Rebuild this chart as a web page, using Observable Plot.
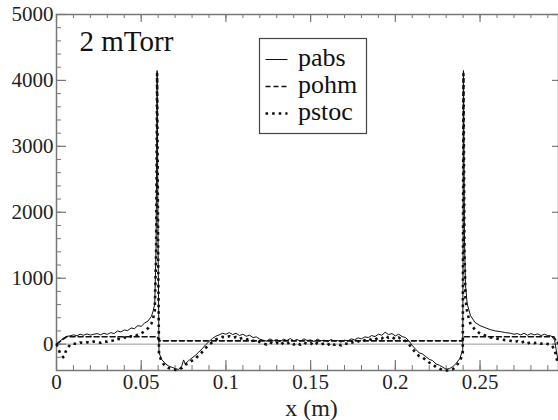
<!DOCTYPE html>
<html>
<head>
<meta charset="utf-8">
<script src="https://cdn.jsdelivr.net/npm/d3@7"></script>
<script src="https://cdn.jsdelivr.net/npm/@observablehq/plot@0.6"></script>
<style>
  html, body { margin: 0; padding: 0; background: #fff; }
  #wrap { position: relative; width: 558px; height: 420px; overflow: hidden; }
  #wrap svg, #wrap svg text { font-family: "Liberation Serif", "Times New Roman", Times, "DejaVu Serif", "Noto Serif", serif !important; }
  #legend { position: absolute; left: 0; top: 0; }
</style>
</head>
<body>
<div id="wrap"></div>
<script>
// ---- data ----
const xTicks = [0, 0.05, 0.1, 0.15, 0.2, 0.25];
const xTickLabels = ["0", "0.05", "0.1", "0.15", "0.2", "0.25"];
const yTicks = [0, 1000, 2000, 3000, 4000, 5000];
const yTickLabels = ["0", "1000", "2000", "3000", "4000", "5000"];
const seriesNames = ["pabs", "pohm", "pstoc"];
const annotation = "2 mTorr";
const xTitle = "x (m)";

// pabs: [x (m), value]
const pabs = [
  [0,0],[0.002,45],[0.004,90],[0.006,118],[0.008,125],[0.010,140],[0.012,128],[0.014,150],[0.016,135],[0.018,155],
  [0.020,138],[0.022,150],[0.024,160],[0.026,142],[0.028,165],[0.030,148],[0.032,175],[0.034,160],[0.036,200],[0.038,185],
  [0.040,215],[0.042,205],[0.044,245],[0.046,235],[0.048,280],[0.050,270],[0.052,320],[0.054,350],[0.056,420],[0.057,500],
  [0.058,610],[0.0588,1500],[0.0594,4150],[0.0600,1400],[0.0605,-130],
  [0.062,-230],[0.064,-290],[0.066,-330],[0.068,-350],[0.070,-370],[0.072,-385],[0.074,-330],[0.075,-240],[0.076,-300],
  [0.078,-250],[0.080,-210],[0.082,-170],[0.084,-120],[0.086,-70],[0.088,-10],[0.090,40],[0.092,85],[0.094,120],[0.096,140],
  [0.098,165],[0.100,150],[0.102,175],[0.104,145],[0.106,165],[0.108,130],[0.110,150],[0.112,120],[0.114,135],[0.116,100],
  [0.118,110],[0.120,75],[0.122,60],[0.124,45],[0.126,80],[0.128,50],[0.130,70],[0.132,40],[0.134,75],[0.136,55],
  [0.138,85],[0.140,50],[0.142,70],[0.144,45],[0.146,80],[0.148,55],[0.150,65],[0.152,40],[0.154,75],[0.156,50],
  [0.158,60],[0.160,35],[0.162,70],[0.164,45],[0.166,55],[0.168,30],[0.170,60],[0.172,50],[0.174,80],[0.176,65],
  [0.178,95],[0.180,80],[0.182,110],[0.184,100],[0.186,130],[0.188,115],[0.190,150],[0.192,135],[0.194,180],[0.196,145],
  [0.198,160],[0.200,125],[0.202,150],[0.204,115],[0.206,100],[0.208,50],[0.210,-20],[0.212,-80],[0.214,-130],[0.216,-150],
  [0.218,-190],[0.220,-230],[0.222,-250],[0.224,-300],[0.226,-320],[0.228,-350],[0.230,-380],[0.232,-370],[0.234,-340],
  [0.236,-290],[0.238,-220],[0.239,-150],[0.2398,-80],[0.2402,4150],[0.2408,1600],[0.2414,900],[0.2424,610],[0.2444,430],
  [0.247,330],[0.250,280],[0.253,250],[0.256,220],[0.259,200],[0.262,190],[0.265,175],[0.268,165],[0.270,150],[0.272,160],
  [0.274,140],[0.276,165],[0.278,135],[0.280,160],[0.282,140],[0.284,155],[0.286,130],[0.288,150],[0.290,130],[0.292,125],
  [0.294,60],[0.295,-100],[0.296,-250]
];

// pohm: [x (m), value]
const pohm = [
  [0,0],[0.006,112],[0.0595,112],[0.0605,50],[0.2398,50],[0.2406,112],[0.2935,112],[0.2962,0]
];

// pstoc: [x (m), value]
const pstoc = [
  [0,0],[0.002,-130],[0.004,-200],[0.006,-80],[0.008,-10],[0.010,10],[0.012,0],[0.014,25],[0.016,15],[0.018,30],
  [0.020,20],[0.022,40],[0.024,30],[0.026,20],[0.028,45],[0.030,35],[0.032,55],[0.034,50],[0.036,80],[0.038,70],
  [0.040,100],[0.042,90],[0.044,120],[0.046,110],[0.048,145],[0.050,160],[0.052,200],[0.054,240],[0.056,310],[0.057,390],
  [0.058,500],[0.0588,1400],[0.0594,4100],[0.0600,1300],[0.0605,-150],
  [0.062,-260],[0.064,-330],[0.066,-360],[0.068,-380],[0.070,-390],[0.072,-395],[0.074,-360],[0.075,-330],[0.076,-310],
  [0.078,-290],[0.080,-250],[0.082,-220],[0.084,-170],[0.086,-120],[0.088,-60],[0.090,-10],[0.092,30],[0.094,70],[0.096,90],
  [0.098,110],[0.100,100],[0.102,120],[0.104,95],[0.106,110],[0.108,80],[0.110,95],[0.112,70],[0.114,80],[0.116,50],
  [0.118,60],[0.120,30],[0.122,10],[0.124,-5],[0.126,30],[0.128,0],[0.130,20],[0.132,-15],[0.134,25],[0.136,5],
  [0.138,30],[0.140,-5],[0.142,20],[0.144,-10],[0.146,25],[0.148,0],[0.150,15],[0.152,-20],[0.154,20],[0.156,-5],
  [0.158,10],[0.160,-15],[0.162,20],[0.164,-10],[0.166,5],[0.168,-20],[0.170,10],[0.172,0],[0.174,30],[0.176,15],
  [0.178,45],[0.180,30],[0.182,60],[0.184,50],[0.186,80],[0.188,65],[0.190,100],[0.192,85],[0.194,125],[0.196,95],
  [0.198,110],[0.200,75],[0.202,100],[0.204,65],[0.206,50],[0.208,0],[0.210,-70],[0.212,-130],[0.214,-180],[0.216,-200],
  [0.218,-240],[0.220,-280],[0.222,-300],[0.224,-350],[0.226,-370],[0.228,-395],[0.230,-400],[0.232,-400],[0.234,-380],
  [0.236,-330],[0.238,-260],[0.239,-200],[0.2398,-130],[0.2402,4100],[0.2408,1400],[0.2414,700],[0.2424,480],[0.2444,300],
  [0.247,220],[0.250,160],[0.253,130],[0.256,100],[0.259,90],[0.262,70],[0.265,60],[0.268,50],[0.270,30],[0.272,45],
  [0.274,20],[0.276,40],[0.278,10],[0.280,30],[0.282,15],[0.284,25],[0.286,5],[0.288,20],[0.290,0],[0.292,-10],
  [0.294,-80],[0.295,-200],[0.296,-300]
];

// ---- chart ----
const W = 558, H = 420;
const mL = 56, mR = 0, mT = 14, mB = 50;
const plotW = W - mL - mR, plotH = H - mT - mB;
const xMax = 0.2963;
const xMinor = d3.range(0, 0.3, 0.01).filter(d => d <= xMax);
const yMinor = d3.range(-400, 5001, 200);
const axisColor = "#777";
const font = "\"Liberation Serif\", \"Times New Roman\", Times, \"DejaVu Serif\", serif";

const chart = Plot.plot({
  width: W, height: H,
  marginLeft: mL, marginRight: mR, marginTop: mT, marginBottom: mB,
  style: { fontFamily: font, background: "#fff", overflow: "visible" },
  x: { domain: [0, xMax], axis: null },
  y: { domain: [-400, 5000], axis: null },
  marks: [
    Plot.ruleY([0], { stroke: "#9a9a9a", strokeWidth: 1 }),
    // minor & major ticks (inward) on all four sides
    Plot.tickX(xMinor, { insetTop: plotH - 5, stroke: axisColor, strokeWidth: 1 }),
    Plot.tickX(xTicks, { insetTop: plotH - 10, stroke: axisColor, strokeWidth: 1.2 }),
    Plot.tickX(xMinor, { insetBottom: plotH - 4, stroke: axisColor, strokeWidth: 1 }),
    Plot.tickX(xTicks, { insetBottom: plotH - 8, stroke: axisColor, strokeWidth: 1.2 }),
    Plot.tickY(yMinor, { insetRight: plotW - 5, stroke: axisColor, strokeWidth: 1 }),
    Plot.tickY(yTicks, { insetRight: plotW - 10, stroke: axisColor, strokeWidth: 1.2 }),
    Plot.tickY(yTicks, { insetLeft: plotW - 6, stroke: axisColor, strokeWidth: 1.2 }),
    Plot.frame({ stroke: axisColor, strokeWidth: 1.5 }),
    // tick labels
    Plot.text(xTicks, { x: d => d, text: (d, i) => xTickLabels[i], frameAnchor: "bottom", lineAnchor: "top", dy: 4, fontSize: 21, fill: "#222" }),
    Plot.text(yTicks, { y: d => d, text: (d, i) => yTickLabels[i], frameAnchor: "left", textAnchor: "end", dx: -3, fontSize: 21, fill: "#222" }),
    Plot.text([xTitle], { frameAnchor: "bottom", lineAnchor: "bottom", dx: 4, dy: 45, fontSize: 24, fill: "#222" }),
    Plot.text([annotation], { frameAnchor: "top-left", textAnchor: "start", lineAnchor: "top", dx: 23, dy: 16, fontSize: 29, fill: "#111" }),
    // series
    Plot.line(pohm, { x: d => d[0], y: d => d[1], stroke: "#111", strokeWidth: 1.6, strokeDasharray: "5,3" }),
    Plot.line(pstoc, { x: d => d[0], y: d => d[1], stroke: "#111", strokeWidth: 2.6, strokeDasharray: "2.6,4", strokeLinecap: "butt" }),
    Plot.line(pabs, { x: d => d[0], y: d => d[1], stroke: "#111", strokeWidth: 1 })
  ]
});

const wrap = document.getElementById("wrap");
wrap.appendChild(chart);

// legend overlay
const NS = "http://www.w3.org/2000/svg";
const leg = document.createElementNS(NS, "svg");
leg.setAttribute("id", "legend");
leg.setAttribute("width", W);
leg.setAttribute("height", H);
leg.style.pointerEvents = "none";
const box = { x: 259.5, y: 38.5, w: 107, h: 95 };
const rect = document.createElementNS(NS, "rect");
rect.setAttribute("x", box.x); rect.setAttribute("y", box.y);
rect.setAttribute("width", box.w); rect.setAttribute("height", box.h);
rect.setAttribute("fill", "#fff"); rect.setAttribute("stroke", "#444"); rect.setAttribute("stroke-width", "1.2");
leg.appendChild(rect);
const styles = [
  { dash: null, w: 1 },
  { dash: "5,3", w: 1.6 },
  { dash: "2.6,4", w: 2.6 }
];
seriesNames.forEach((name, i) => {
  const baseY = box.y + 27.5 + i * 27;
  const ln = document.createElementNS(NS, "line");
  ln.setAttribute("x1", box.x + 6); ln.setAttribute("x2", box.x + 28);
  ln.setAttribute("y1", baseY - 6.5); ln.setAttribute("y2", baseY - 6.5);
  ln.setAttribute("stroke", "#111"); ln.setAttribute("stroke-width", styles[i].w);
  if (styles[i].dash) ln.setAttribute("stroke-dasharray", styles[i].dash);
  leg.appendChild(ln);
  const t = document.createElementNS(NS, "text");
  t.setAttribute("x", box.x + 38.5); t.setAttribute("y", baseY);
  t.setAttribute("font-size", "26");
  t.setAttribute("fill", "#111");
  t.textContent = name;
  leg.appendChild(t);
});
wrap.appendChild(leg);
</script>
</body>
</html>
